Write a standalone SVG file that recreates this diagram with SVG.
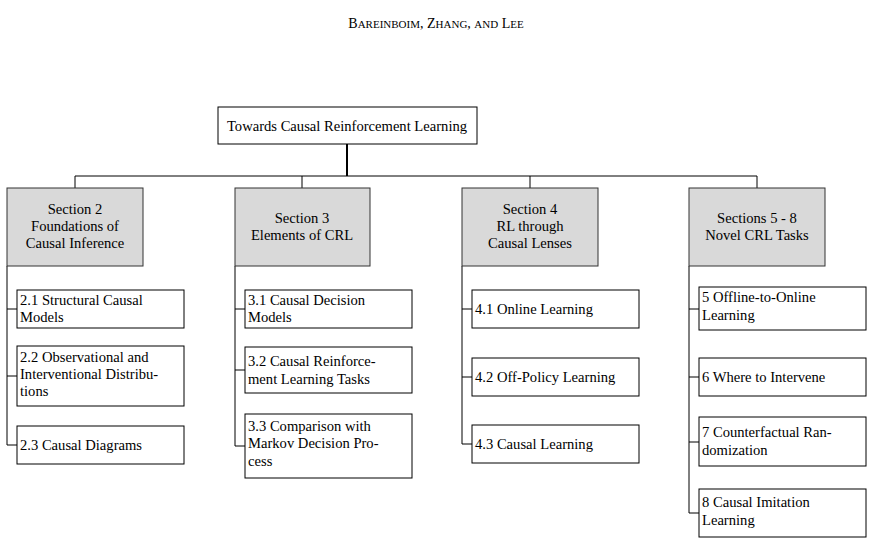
<svg xmlns="http://www.w3.org/2000/svg" width="873" height="542" viewBox="0 0 873 542">
<style>
text{font-family:"Liberation Serif","Times New Roman",serif;font-size:14.6px;fill:#000}
.c{text-anchor:middle}
.sec{fill:#d9d9d9;stroke:#333;stroke-width:1}
.leaf{fill:#fff;stroke:#000;stroke-width:1}
.ln{stroke:#000;stroke-width:1;fill:none}
</style>
<rect width="873" height="542" fill="#fff"/>
<text x="436" y="28" class="c" style="font-size:14px">B<tspan style="font-size:11px">AREINBOIM</tspan>, Z<tspan style="font-size:11px">HANG</tspan>, <tspan style="font-size:11px">AND</tspan> L<tspan style="font-size:11px">EE</tspan></text>
<g id="connectors">
<path class="ln" d="M347 144V176" style="stroke-width:2"/>
<path class="ln" d="M75 188V176H757V188M302 176V188M530 176V188"/>
<path class="ln" d="M7 266V445H17M7 309H17M7 376H17"/>
<path class="ln" d="M235 266V446H245M235 309H245M235 370H245"/>
<path class="ln" d="M462 266V444H472M462 309H472M462 377H472"/>
<path class="ln" d="M689 266V513H699M689 309H699M689 377H699M689 442H699"/>
</g>
<g id="root"><rect class="leaf" x="218" y="107" width="259" height="37"/><text x="347" y="131" class="c">Towards Causal Reinforcement Learning</text></g>
<g id="s2"><rect class="sec" x="7" y="188" width="136" height="78"/><text class="c" x="75" y="214">Section 2</text><text class="c" x="75" y="231">Foundations of</text><text class="c" x="75" y="248">Causal Inference</text></g>
<g id="s3"><rect class="sec" x="235" y="188" width="135" height="78"/><text class="c" x="302" y="223">Section 3</text><text class="c" x="302" y="240">Elements of CRL</text></g>
<g id="s4"><rect class="sec" x="462" y="188" width="136" height="78"/><text class="c" x="530" y="214">Section 4</text><text class="c" x="530" y="231">RL through</text><text class="c" x="530" y="248">Causal Lenses</text></g>
<g id="s5"><rect class="sec" x="689" y="188" width="136" height="78"/><text class="c" x="757" y="223">Sections 5 - 8</text><text class="c" x="757" y="240">Novel CRL Tasks</text></g>
<g id="n21"><rect class="leaf" x="17" y="290" width="167" height="38"/><text x="20" y="305">2.1 Structural Causal</text><text x="20" y="322">Models</text></g>
<g id="n22"><rect class="leaf" x="17" y="346" width="167" height="60"/><text x="20" y="362">2.2 Observational and</text><text x="20" y="379">Interventional Distribu-</text><text x="20" y="396">tions</text></g>
<g id="n23"><rect class="leaf" x="17" y="426" width="167" height="38"/><text x="20" y="450">2.3 Causal Diagrams</text></g>
<g id="n31"><rect class="leaf" x="245" y="290" width="167" height="38"/><text x="248" y="305">3.1 Causal Decision</text><text x="248" y="322">Models</text></g>
<g id="n32"><rect class="leaf" x="245" y="347" width="167" height="46"/><text x="248" y="366">3.2 Causal Reinforce-</text><text x="248" y="384">ment Learning Tasks</text></g>
<g id="n33"><rect class="leaf" x="245" y="414" width="167" height="64"/><text x="248" y="431">3.3 Comparison with</text><text x="248" y="448">Markov Decision Pro-</text><text x="248" y="466">cess</text></g>
<g id="n41"><rect class="leaf" x="472" y="290" width="167" height="38"/><text x="475" y="314">4.1 Online Learning</text></g>
<g id="n42"><rect class="leaf" x="472" y="358" width="167" height="38"/><text x="475" y="382">4.2 Off-Policy Learning</text></g>
<g id="n43"><rect class="leaf" x="472" y="425" width="167" height="38"/><text x="475" y="449">4.3 Causal Learning</text></g>
<g id="n5"><rect class="leaf" x="699" y="287" width="167" height="43"/><text x="702" y="302">5 Offline-to-Online</text><text x="702" y="320">Learning</text></g>
<g id="n6"><rect class="leaf" x="699" y="358" width="167" height="38"/><text x="702" y="382">6 Where to Intervene</text></g>
<g id="n7"><rect class="leaf" x="699" y="417" width="167" height="49"/><text x="702" y="437">7 Counterfactual Ran-</text><text x="702" y="455">domization</text></g>
<g id="n8"><rect class="leaf" x="699" y="489" width="167" height="48"/><text x="702" y="507">8 Causal Imitation</text><text x="702" y="525">Learning</text></g>
</svg>
